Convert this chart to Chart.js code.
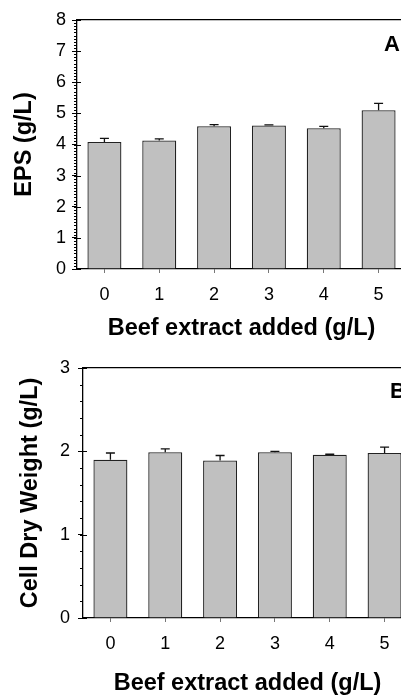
<!DOCTYPE html>
<html>
<head>
<meta charset="utf-8">
<script src="https://cdn.jsdelivr.net/npm/chart.js@4.4.1/dist/chart.umd.min.js"></script>
<style>
  body { margin: 0; width: 401px; height: 695px; overflow: hidden; background: #fff; position: relative; font-family: "Liberation Sans", Arial, sans-serif; }
  canvas { position: absolute; left: 0; }
  #graficoA { top: 0; }
  #graficoB { top: 345px; }
  .painel { position: absolute; font-weight: bold; font-size: 22px; line-height: 22px; color: #000; }
</style>
</head>
<body>
<canvas id="graficoA" width="410" height="345"></canvas>
<canvas id="graficoB" width="416" height="350"></canvas>
<div class="painel" style="left:384px; top:33px;">A</div>
<div class="painel" style="left:390px; top:380px;">B</div>
<script>
var categorias = ["0", "1", "2", "3", "4", "5"];

var epsValores = [4.08, 4.13, 4.59, 4.61, 4.52, 5.10];
var epsErros = [0.12, 0.05, 0.05, 0.02, 0.06, 0.22];
var ticksA = [0, 1, 2, 3, 4, 5, 6, 7, 8];

var cdwValores = [1.90, 1.99, 1.89, 1.99, 1.96, 1.98];
var cdwErros = [0.08, 0.04, 0.06, 0.01, 0.005, 0.07];
var ticksB = [0, 1, 2, 3];

var fonte = "'Liberation Sans', Arial, sans-serif";

// barras de erro (so para cima)
var barrasErro = {
  id: "barrasErro",
  afterDatasetsDraw: function (chart, args, opts) {
    var meta = chart.getDatasetMeta(0);
    var dados = chart.data.datasets[0].data;
    var y = chart.scales.y;
    var ctx = chart.ctx;
    ctx.save();
    ctx.strokeStyle = "#111";
    ctx.lineWidth = 1.3;
    for (var i = 0; i < meta.data.length; i++) {
      var x = meta.data[i].x;
      var base = y.getPixelForValue(dados[i]);
      var topo = y.getPixelForValue(dados[i] + opts.erros[i]);
      ctx.beginPath();
      ctx.moveTo(x, base);
      ctx.lineTo(x, topo);
      ctx.moveTo(x - 4.5, topo);
      ctx.lineTo(x + 4.5, topo);
      ctx.stroke();
    }
    ctx.restore();
  }
};

// ticks menores do eixo y
var ticksMenores = {
  id: "ticksMenores",
  afterDraw: function (chart, args, opts) {
    var y = chart.scales.y;
    var ctx = chart.ctx;
    var x0 = y.right;
    var n = Math.round((y.max - y.min) / opts.passo);
    ctx.save();
    ctx.strokeStyle = "#000";
    ctx.lineWidth = 1;
    ctx.beginPath();
    for (var i = 0; i <= n; i++) {
      var py = Math.round(y.getPixelForValue(y.min + i * opts.passo)) + 0.5;
      ctx.moveTo(x0 - 3, py);
      ctx.lineTo(x0, py);
    }
    for (var j = 0; j < y.ticks.length; j++) {
      var pm = Math.round(y.getPixelForValue(y.ticks[j].value)) + 0.5;
      ctx.moveTo(x0, pm);
      ctx.lineTo(x0 + 4, pm);
    }
    ctx.stroke();
    ctx.restore();
  }
};

function montarGrafico(id, valores, erros, ticks, passo, tituloY, cfg) {
  var ctx = document.getElementById(id).getContext("2d");
  return new Chart(ctx, {
    type: "bar",
    data: {
      labels: categorias,
      datasets: [{
        data: valores,
        backgroundColor: "#c0c0c0",
        borderColor: "#222",
        borderWidth: 1.3,
        barPercentage: 0.62,
        categoryPercentage: 1
      }]
    },
    options: {
      responsive: false,
      animation: false,
      layout: { padding: { top: cfg.topo, right: 4, left: 0, bottom: 0 } },
      plugins: {
        legend: { display: false },
        tooltip: { enabled: false },
        barrasErro: { erros: erros },
        ticksMenores: { passo: passo }
      },
      scales: {
        x: {
          grid: { display: true, drawOnChartArea: false, offset: false, tickLength: 4, color: "#777" },
          border: { display: true, color: "#000", width: 1.3 },
          ticks: { font: { size: 18, family: fonte }, color: "#000", padding: cfg.padTickX, maxRotation: 0 },
          title: {
            display: true,
            text: "Beef extract added (g/L)",
            color: "#000",
            font: { size: 23.5, weight: "bold", family: fonte, lineHeight: 1 },
            padding: { top: 0, bottom: cfg.padTituloX }
          },
          afterFit: function (s) { s.height = cfg.alturaX; }
        },
        x2: {
          position: "top",
          grid: { display: false },
          ticks: { display: false },
          border: { display: true, color: "#000", width: 1.3 },
          afterFit: function (s) { s.height = 0; }
        },
        y: {
          min: ticks[0],
          max: ticks[ticks.length - 1],
          afterBuildTicks: function (s) {
            s.ticks = ticks.map(function (v) { return { value: v }; });
          },
          grid: { display: true, drawOnChartArea: false, tickLength: 5, color: "#000" },
          border: { display: true, color: "#000", width: 1.3 },
          ticks: { font: { size: 18, family: fonte }, color: "#000", padding: cfg.padTickY },
          title: {
            display: true,
            text: tituloY,
            color: "#000",
            font: { size: 23.5, weight: "bold", family: fonte, lineHeight: 1 },
            padding: { top: cfg.padTituloY, bottom: 0 }
          },
          afterFit: function (s) { s.width = cfg.larguraY; }
        }
      }
    },
    plugins: [barrasErro, ticksMenores]
  });
}

montarGrafico("graficoA", epsValores, epsErros, ticksA, 0.1, "EPS (g/L)",
  { topo: 20, alturaX: 76, larguraY: 77, padTickX: 11, padTickY: 6, padTituloX: 5, padTituloY: 13 });

montarGrafico("graficoB", cdwValores, cdwErros, ticksB, 0.2, "Cell Dry Weight (g/L)",
  { topo: 23, alturaX: 77, larguraY: 83, padTickX: 11, padTickY: 8, padTituloX: 0, padTituloY: 19 });
</script>
</body>
</html>
